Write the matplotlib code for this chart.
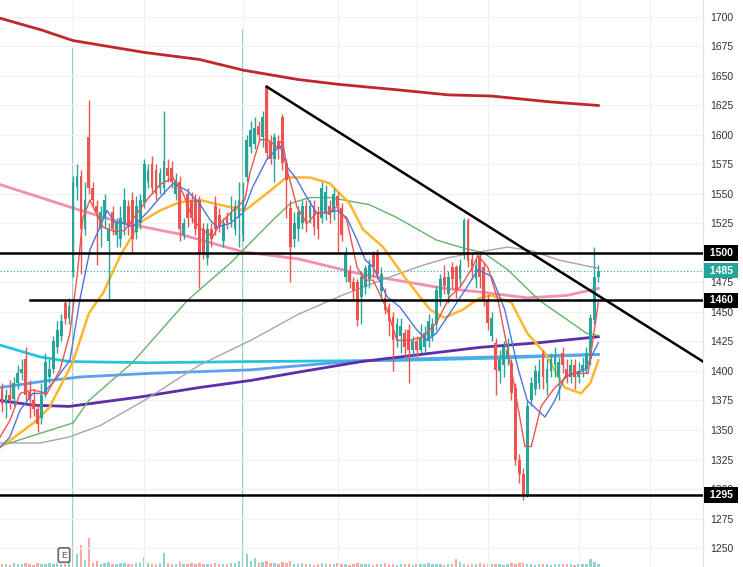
import numpy as np
import matplotlib.pyplot as plt
from matplotlib.transforms import blended_transform_factory

plt.rcParams['font.family'] = ['Liberation Sans', 'DejaVu Sans']

# ---- daily candles ----
opens = [1385, 1372, 1380, 1376, 1390, 1398, 1410, 1382, 1375, 1368, 1360, 1380, 1395, 1402, 1420, 1430, 1458, 1445,
         1484, 1556, 1565, 1520, 1598, 1555, 1540, 1520, 1530, 1510, 1535, 1515, 1512, 1525, 1540, 1545, 1518, 1525,
         1542, 1560, 1575, 1570, 1555, 1555, 1572, 1572, 1550, 1560, 1515, 1550, 1545, 1545, 1545, 1520, 1496, 1520,
         1540, 1532, 1510, 1530, 1527, 1520, 1530, 1515, 1564, 1590, 1592, 1608, 1598, 1641, 1595, 1580, 1595, 1615,
         1576, 1538, 1512, 1520, 1525, 1540, 1530, 1540, 1535, 1530, 1535, 1540, 1535, 1548, 1538, 1480, 1485, 1475,
         1475, 1463, 1471, 1478, 1500, 1500, 1468, 1462, 1455, 1446, 1425, 1430, 1432, 1435, 1418, 1425, 1418, 1420,
         1425, 1430, 1440, 1462, 1480, 1465, 1488, 1488, 1478, 1500, 1528, 1495, 1478, 1497, 1488, 1460, 1430, 1424,
         1400, 1405, 1410, 1407, 1386, 1325, 1313, 1295, 1375, 1385, 1390, 1415, 1390, 1400, 1405, 1395, 1415, 1402,
         1395, 1405, 1395, 1400, 1402, 1410, 1443, 1480]
closes = [1372, 1380, 1375, 1390, 1398, 1402, 1380, 1375, 1368, 1355, 1380, 1408, 1402, 1425, 1435, 1442, 1444, 1455,
          1560, 1565, 1520, 1545, 1555, 1545, 1535, 1535, 1545, 1520, 1520, 1525, 1530, 1545, 1522, 1512, 1540, 1545,
          1575, 1570, 1555, 1550, 1568, 1578, 1565, 1560, 1562, 1520, 1525, 1530, 1530, 1520, 1500, 1500, 1520, 1512,
          1520, 1522, 1525, 1525, 1535, 1540, 1545, 1545, 1596, 1604, 1606, 1600, 1615, 1585, 1580, 1598, 1588, 1576,
          1562, 1505, 1525, 1535, 1540, 1525, 1540, 1522, 1520, 1555, 1552, 1532, 1550, 1540, 1515, 1500, 1475, 1468,
          1443, 1480, 1487, 1490, 1488, 1482, 1482, 1452, 1442, 1426, 1440, 1438, 1420, 1418, 1425, 1418, 1428, 1432,
          1442, 1440, 1469, 1478, 1472, 1480, 1478, 1468, 1490, 1528, 1493, 1485, 1490, 1480, 1460, 1441, 1445, 1401,
          1410, 1420, 1418, 1381, 1325, 1313, 1296, 1370, 1390, 1400, 1400, 1395, 1402, 1410, 1412, 1408, 1405, 1395,
          1405, 1395, 1400, 1405, 1415, 1445, 1480, 1485]
highs = [1390, 1385, 1392, 1395, 1405, 1410, 1420, 1392, 1385, 1372, 1390, 1415, 1410, 1430, 1442, 1448, 1461, 1462,
         1565, 1575, 1570, 1560, 1630, 1560, 1545, 1540, 1550, 1525, 1540, 1530, 1540, 1555, 1545, 1552, 1548, 1550,
         1580, 1575, 1582, 1575, 1572, 1620, 1580, 1578, 1568, 1565, 1530, 1555, 1552, 1550, 1548, 1525, 1525, 1525,
         1548, 1538, 1530, 1535, 1548, 1545, 1560, 1560, 1600, 1612, 1615, 1612, 1620, 1642, 1600, 1602, 1600, 1618,
         1580, 1545, 1535, 1540, 1545, 1545, 1545, 1545, 1540, 1560, 1558, 1545, 1555, 1552, 1542, 1505, 1490, 1480,
         1478, 1485, 1490, 1495, 1502, 1503, 1488, 1470, 1458, 1450, 1445, 1445, 1436, 1440, 1430, 1430, 1440, 1438,
         1448, 1445, 1472, 1482, 1490, 1485, 1492, 1490, 1495, 1530, 1530, 1500, 1495, 1500, 1492, 1465, 1450, 1428,
         1418, 1425, 1428, 1410, 1390, 1330, 1318, 1375, 1395, 1405, 1410, 1418, 1410, 1415, 1420, 1412, 1420, 1410,
         1410, 1410, 1408, 1412, 1420, 1448, 1505, 1490]
lows = [1365, 1360, 1368, 1370, 1385, 1392, 1375, 1360, 1362, 1348, 1355, 1378, 1390, 1398, 1415, 1425, 1440, 1440,
        1480, 1545, 1482, 1515, 1550, 1540, 1490, 1505, 1520, 1460, 1515, 1505, 1505, 1515, 1515, 1500, 1512, 1520,
        1538, 1555, 1550, 1545, 1550, 1550, 1560, 1555, 1545, 1510, 1512, 1522, 1525, 1515, 1470, 1495, 1490, 1505,
        1515, 1518, 1505, 1520, 1522, 1515, 1505, 1510, 1560, 1585, 1588, 1595, 1590, 1580, 1575, 1560, 1580, 1570,
        1530, 1475, 1505, 1510, 1520, 1518, 1525, 1515, 1512, 1525, 1528, 1525, 1528, 1500, 1510, 1475, 1470, 1460,
        1438, 1440, 1465, 1470, 1480, 1478, 1462, 1448, 1430, 1400, 1420, 1415, 1412, 1390, 1412, 1412, 1415, 1415,
        1420, 1425, 1435, 1455, 1465, 1458, 1470, 1462, 1472, 1495, 1488, 1478, 1470, 1470, 1455, 1435, 1425, 1380,
        1390, 1395, 1405, 1375, 1320, 1305, 1291, 1293, 1370, 1380, 1385, 1385, 1380, 1395, 1395, 1375, 1398, 1390,
        1390, 1385, 1390, 1395, 1398, 1405, 1440, 1475]
volumes = [30, 35, 25, 40, 30, 35, 45, 30, 25, 40, 35, 30, 40, 35, 45, 30, 35, 40,
           5190, 130, 220, 70, 290, 45, 60, 35, 40, 55, 35, 30, 40, 45, 35, 30, 40, 45,
           100, 40, 35, 30, 45, 140, 40, 35, 30, 50, 35, 30, 40, 35, 45, 30, 35, 30,
           40, 35, 30, 35, 40, 45, 60, 5380, 130, 60, 90, 45, 50, 60, 45, 40, 35, 50,
           45, 60, 35, 30, 40, 35, 30, 25, 35, 40, 30, 35, 30, 40, 35, 30, 25, 35,
           40, 30, 35, 30, 25, 35, 30, 40, 30, 35, 25, 30, 35, 30, 25, 30, 35, 30,
           40, 30, 35, 30, 25, 35, 30, 80, 50, 30, 25, 35, 30, 40, 30, 35, 30, 35,
           30, 25, 35, 40, 35, 45, 40, 35, 30, 25, 30, 35, 30, 25, 30, 35, 30, 35,
           30, 25, 35, 30, 35, 80, 50, 30]

# ---- moving averages (candle index, price) ----
ma_long_x = [-0.5, 10, 18, 36, 50, 61, 75, 85, 101, 113, 124, 139, 151]
ma_long_y = [1699, 1689, 1680, 1670, 1664, 1655, 1647, 1643, 1638, 1634, 1633, 1628, 1625]

pink_x = [-0.5, 20, 30, 45, 61, 75, 91, 112, 121, 133, 143, 151]
pink_y = [1558, 1536, 1526, 1516, 1501, 1495, 1482, 1470, 1467, 1462, 1464, 1470]

gray_x = [-0.5, 9.6, 17, 25, 36, 50, 63, 75, 86, 96, 106, 113, 121, 128, 134, 141, 151]
gray_y = [1339, 1339, 1344, 1354, 1375, 1405, 1426, 1448, 1464, 1477, 1489, 1496, 1501, 1505, 1502, 1494, 1487]

green_x = [-0.5, 2, 18, 22, 33, 47, 58, 63, 68, 73, 78, 83, 93, 100, 110, 116, 122, 128, 136, 142, 148, 151]
green_y = [1336, 1339, 1356, 1375, 1407, 1460, 1492, 1509, 1526, 1542, 1547, 1547, 1541, 1530, 1511, 1505, 1500,
           1486, 1460, 1446, 1432, 1430]

orange_x = [-0.5, 2, 8, 12, 18, 22, 25.6, 30, 35, 40, 45, 50, 55, 61.5, 68, 72, 78, 83, 88, 91.4, 96.5, 102.5,
            108.4, 112, 116.7, 121, 124, 129, 133, 137.5, 142.5, 146.6, 149, 151]
orange_y = [1336, 1341, 1356, 1369, 1408, 1449, 1466, 1498, 1526, 1536, 1543, 1545, 1541, 1536, 1553, 1564, 1564,
            1559, 1542, 1520, 1505, 1477, 1452, 1445, 1452, 1462, 1464, 1458, 1432, 1415, 1386, 1381, 1390, 1409]

blue_x = [-0.5, 2, 4.6, 7.8, 10.4, 13.4, 17.2, 19.7, 22.3, 24.8, 26.6, 28.6, 31, 33, 36.7, 40, 43.3, 46.8, 50,
          52.7, 54.4, 57.7, 61, 63.5, 67, 70.4, 72.2, 74.7, 77.2, 79.7, 82.3, 84.8, 87.3, 89.9, 92, 94, 97.5,
          100.8, 105, 107.6, 110, 114, 117.7, 120.5, 124, 127.3, 130.6, 133, 137.5, 140, 142.5, 147.6, 151]
blue_y = [1335, 1344, 1367, 1381, 1381, 1392, 1409, 1460, 1503, 1522, 1536, 1526, 1525, 1522, 1534, 1547, 1559,
          1553, 1542, 1528, 1522, 1525, 1534, 1556, 1579, 1591, 1573, 1562, 1547, 1534, 1534, 1536, 1530, 1511,
          1494, 1488, 1463, 1454, 1435, 1426, 1432, 1452, 1471, 1486, 1480, 1452, 1403, 1375, 1361, 1375, 1395,
          1401, 1424]

red_x = [-0.5, 2, 4.6, 7.8, 11.4, 14.7, 17.2, 19, 20.5, 22.3, 23.5, 25.6, 28.6, 31, 33, 36.7, 40, 43.3, 45.8,
         48.4, 50.9, 53.4, 55.2, 58.5, 61.5, 62.8, 65.3, 67.3, 69.6, 71, 72.4, 74.7, 77.2, 79.7, 82.3, 84.8, 87.3,
         89.9, 92, 94, 97.5, 100, 103.3, 106.6, 110, 113.4, 116, 119.2, 120.5, 123, 125.6, 128.9, 132.4, 134,
         136.5, 140, 144, 148.4, 151]
red_y = [1344, 1358, 1381, 1384, 1381, 1401, 1432, 1480, 1530, 1545, 1536, 1522, 1518, 1519, 1528, 1545, 1558,
         1564, 1551, 1528, 1519, 1514, 1525, 1536, 1545, 1568, 1596, 1596, 1590, 1596, 1568, 1539, 1525, 1534,
         1534, 1539, 1528, 1488, 1477, 1477, 1452, 1426, 1426, 1429, 1441, 1463, 1471, 1488, 1498, 1488, 1460,
         1403, 1336, 1336, 1370, 1386, 1398, 1398, 1458]

purple_x = [-0.5, 8, 17, 35, 50, 63, 75, 91, 101, 121, 136, 151]
purple_y = [1375, 1371, 1370, 1378, 1386, 1392, 1399, 1408, 1412, 1420, 1424, 1429]

cyan_x = [-0.5, 9.6, 17, 37.5, 63, 101, 126, 151]
cyan_y = [1422, 1412, 1408, 1407, 1408, 1409, 1411, 1414]

ltblue_x = [-0.5, 12, 20, 37.5, 63, 88, 101, 126, 151]
ltblue_y = [1386, 1392, 1395, 1398, 1401, 1408, 1410, 1412, 1414]

# ---- drawn levels ----
levels = [1500, 1460, 1295]
last_price = 1485
trend_x = [67, 177.5]
trend_y = [1641, 1408]
month_starts = [18, 36, 61, 85, 105, 123, 146, 164]
earnings_idx = 15.7

UP = '#26a69a'
DOWN = '#ef5350'

fig = plt.figure(figsize=(7.43, 5.67), dpi=100)
rect = [0, 0, 703 / 743, 1]

# volume in its own axes underneath
axv = fig.add_axes(rect)
idx = np.arange(len(closes))
up = np.array(closes) >= np.array(opens)
vcol = np.where(up, '#92d3cc', '#f7a9a8')
axv.bar(idx, volumes, width=0.6, color=vcol, zorder=2)
axv.set_ylim(0, 5670)
axv.set_xlim(-0.5, 177.5)
axv.axis('off')

ax = fig.add_axes(rect)
ax.patch.set_alpha(0)
ax.set_xlim(-0.5, 177.5)
ax.set_ylim(1233.9, 1714.4)

for m in month_starts:
    ax.axvline(m, color='#f0f0f0', lw=0.8, zorder=0)
ticks = np.arange(1250, 1701, 25)
ax.set_yticks(ticks)
# the 1500 tick sits under its level tag
ax.set_yticklabels(['' if t == 1500 else str(t) for t in ticks])
ax.grid(axis='y', color='#f0f0f0', lw=0.8, zorder=0)

# moving averages
ax.plot(ma_long_x, ma_long_y, color='#c0272d', lw=2.0, zorder=3)
ax.plot(cyan_x, cyan_y, color='#26c6da', lw=2.0, zorder=3)
ax.plot(ltblue_x, ltblue_y, color='#5aa2f0', lw=2.0, zorder=3)
ax.plot(purple_x, purple_y, color='#5c2ea8', lw=2.0, zorder=3)
ax.plot(pink_x, pink_y, color='#f48fb1', lw=2.0, zorder=3)
ax.plot(gray_x, gray_y, color='#a6a6a6', lw=1.0, zorder=3)
ax.plot(green_x, green_y, color='#66b366', lw=1.0, zorder=3)
ax.plot(orange_x, orange_y, color='#ffb62e', lw=1.8, zorder=3)

# candles
o = np.array(opens)
c = np.array(closes)
ccol = np.where(up, UP, DOWN)
ax.vlines(idx, lows, highs, colors=ccol, lw=1, zorder=4)
ax.bar(idx, np.maximum(np.abs(c - o), 0.8), bottom=np.minimum(o, c), width=0.7, color=ccol, zorder=4)

ax.plot(blue_x, blue_y, color='#4f73e0', lw=1.0, zorder=5)
ax.plot(red_x, red_y, color='#ef5350', lw=1.0, zorder=5)

# horizontal levels and trend line
ax.axhline(levels[0], color='black', lw=1.8, zorder=6)
ax.plot([7, 177.5], [levels[1], levels[1]], color='black', lw=1.8, zorder=6)
ax.axhline(levels[2], color='black', lw=1.8, zorder=6)
ax.plot(trend_x, trend_y, color='black', lw=1.8, zorder=6)
ax.axhline(last_price, color=UP, lw=0.8, ls=(0, (1, 2)), zorder=2)

# axis styling
ax.yaxis.tick_right()
ax.tick_params(axis='y', length=0, pad=5, labelsize=7.5, labelcolor='#333333')
ax.set_xticks([])
for s in ['top', 'left', 'bottom']:
    ax.spines[s].set_visible(False)
ax.spines['right'].set_color('#e0e3eb')

# price tags on the right axis
tr = blended_transform_factory(ax.transAxes, ax.transData)
for lv in levels:
    ax.text(1.026, lv, ' %d ' % lv, transform=tr, ha='center', va='center', fontsize=7.5,
            fontweight='bold', color='white', clip_on=False, zorder=10,
            bbox=dict(boxstyle='square,pad=0.25', fc='black', ec='none'))
ax.text(1.026, last_price, ' %d ' % last_price, transform=tr, ha='center', va='center', fontsize=7.5,
        fontweight='bold', color='white', clip_on=False, zorder=10,
        bbox=dict(boxstyle='square,pad=0.25', fc=UP, ec='none'))

# earnings marker
trE = blended_transform_factory(ax.transData, ax.transAxes)
ax.text(earnings_idx, 0.021, 'E', transform=trE, ha='center', va='center', fontsize=6.5,
        color='#555555', zorder=10,
        bbox=dict(boxstyle='round,pad=0.3,rounding_size=0.2', fc='white', ec='#666666', lw=1.2))

fig.savefig('out.png', dpi=100)
